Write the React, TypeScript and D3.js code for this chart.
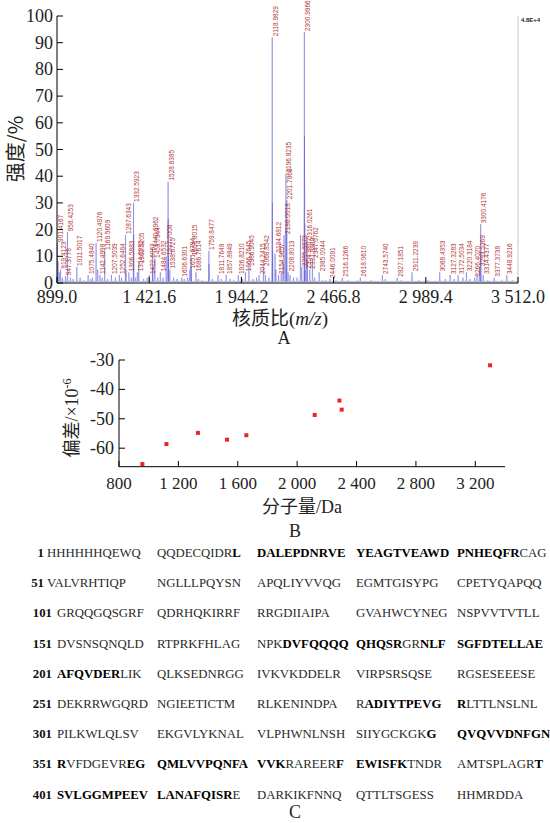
import React from 'react';
import * as d3 from 'd3';

// A: labelled peaks of the spectrum (m/z, relative intensity %)
const peakMz = [
  901.4167, 919.4123, 947.3778, 958.4253, 1011.5017, 1075.484, 1120.4976, 1142.4998, 1169.5609, 1207.5039,
  1252.6484, 1287.6343, 1306.5883, 1332.5923, 1354.5992, 1362.5205, 1422.6063, 1440.6962, 1453.7344, 1484.6532,
  1517.7008, 1528.6385, 1538.6725, 1606.6301, 1651.6794, 1658.8015, 1686.7614, 1759.8477, 1811.7649, 1857.8849,
  1926.821, 1966.7645, 1986.9045, 2044.2415, 2068.8542, 2118.9829, 2134.6812, 2154.9657, 2186.0018, 2196.8235,
  2201.7869, 2208.8013, 2285.8879, 2300.9966, 2304.9807, 2316.0261, 2331.9989, 2347.0762, 2385.0044, 2446.0091,
  2516.1266, 2618.061, 2743.574, 2827.1851, 2911.2239, 3068.4353, 3127.3283, 3172.5034, 3220.3184, 3266.402,
  3293.5369, 3300.4176, 3314.4377, 3377.3738, 3448.9216,
];
const peakInt = [
  15, 5, 2.5, 19, 6, 3, 15, 3, 12, 3,
  3, 18, 4, 30, 4, 7, 3, 13, 9, 4,
  10, 38, 5, 2, 5, 10, 4, 12, 3, 3,
  3, 4, 6, 3, 6, 92, 11, 3, 18, 41,
  31, 4, 6, 94, 5, 16, 5, 9, 4, 1.5,
  2, 2, 3, 2, 4, 4, 3, 3, 4, 2,
  6, 22, 3, 2, 3,
];
// A: unlabelled minor peaks / isotopes
const minorMz = [
  905, 912, 930, 975, 990, 1030, 1050, 1090, 1100, 1130, 1155, 1185, 1230, 1265, 1290, 1320, 1333.6, 1345,
  1390, 1410, 1441.7, 1470, 1500, 1529.6, 1530.6, 1560, 1580, 1620, 1640, 1659.8, 1700, 1720, 1760.8, 1780,
  1830, 1880, 1900, 1950, 2010, 2030, 2080, 2100, 2120, 2121, 2140, 2170, 2180, 2197.8, 2220, 2240, 2260,
  2279, 2302, 2303, 2317, 2360, 2400, 2420, 2480, 2550, 2600, 2680, 2760, 2850, 2950, 3000, 3100, 3150, 3200,
  3240, 3280, 3301.4, 3340, 3420, 3480,
];
const minorInt = [
  8, 4, 2, 2, 1.5, 2, 1, 1.5, 2, 5, 2, 1.5, 2, 2, 5, 2, 18, 2,
  1.5, 2, 6, 2, 2, 24, 10, 2, 1.5, 1.5, 2, 6, 1.5, 1, 7, 1.5,
  1.5, 1.5, 1, 1.5, 1.5, 2, 3, 2, 30, 12, 5, 4, 8, 20, 3, 2, 2,
  18, 55, 22, 8, 2, 1, 1, 1, 1, 1, 1, 1.5, 1, 1, 1, 1.5, 1.5, 2,
  1.5, 3, 12, 1, 1, 1,
];
const mzTicks = [899.0, 1421.6, 1944.2, 2466.8, 2989.4, 3512.0];
const intTicks = [0, 10, 20, 30, 40, 50, 60, 70, 80, 90, 100];

// B: mass deviation of matched peptides
const massDa = [957.42, 1119.49, 1331.58, 1527.63, 1657.79, 2117.98, 2284.88, 2299.99, 3299.41];
const deviation = [-65.4, -58.6, -54.8, -57.1, -55.6, -48.7, -43.8, -46.9, -31.8];
const massTicks = [800, 1200, 1600, 2000, 2400, 2800, 3200];
const devTicks = [-30, -40, -50, -60];

// C: sequence, matched peptides in [brackets]
const seqStarts = [1, 51, 101, 151, 201, 251, 301, 351, 401];
const seqBlocks = [
  ['HHHHHHQEWQ', 'QQDECQIDR[L]', '[DALEPDNRVE]', '[YEAGTVEAWD]', '[PNHEQFR]CAG'],
  ['VALVRHTIQP', 'NGLLLPQYSN', 'APQLIYVVQG', 'EGMTGISYPG', 'CPETYQAPQQ'],
  ['GRQQGQSGRF', 'QDRHQKIRRF', 'RRGDIIAIPA', 'GVAHWCYNEG', 'NSPVVTVTLL'],
  ['DVSNSQNQLD', 'RTPRKFHLAG', 'NPK[DVFQQQQ]', '[QHQSR]GR[NLF]', '[SGFDTELLAE]'],
  ['[AFQVDER]LIK', 'QLKSEDNRGG', 'IVKVKDDELR', 'VIRPSRSQSE', 'RGSESEEESE'],
  ['DEKRRWGQRD', 'NGIEETICTM', 'RLKENINDPA', 'R[ADIYTPEVG]', '[R]LTTLNSLNL'],
  ['PILKWLQLSV', 'EKGVLYKNAL', 'VLPHWNLNSH', 'SIIYGCKGK[G]', '[QVQVVDNFGN]'],
  ['[R]VFDGEVR[EG]', '[QMLVVPQNFA]', '[VVK]RAREER[F]', '[EWISFK]TNDR', 'AMTSPLAGR[T]'],
  ['[SVLGGMPEEV]', '[LANAFQISR]E', 'DARKIKFNNQ', 'QTTLTSGESS', 'HHMRDDA'],
];

const SERIF = '"Liberation Serif", "Times New Roman", "Noto Sans CJK SC", serif';
const CJK = '"Noto Sans CJK SC", "Liberation Serif", sans-serif';

// thousands separated by a space, like "1 421.6"
const spaced = (v: number, dec: number) => {
  const [i, f] = v.toFixed(dec).split('.');
  const int = i.replace(/\B(?=(\d{3})+(?!\d))/g, ' ');
  return f ? `${int}.${f}` : int;
};

const Spectrum = () => {
  const x = d3.scaleLinear().domain([899, 3512]).range([57, 518]);
  const y = d3.scaleLinear().domain([0, 100]).range([283, 16]);

  const all = peakMz.map((m, i) => ({ m, v: peakInt[i] }))
    .concat(minorMz.map((m, i) => ({ m, v: minorInt[i] })))
    .sort((a, b) => a.m - b.m);
  const pts: [number, number][] = [[899, 0.6]];
  all.forEach(p => {
    pts.push([p.m - 1.5, 0.6], [p.m, p.v], [p.m + 1.5, 0.6]);
  });
  pts.push([3512, 0.6]);
  const line = d3.line<[number, number]>().x(d => x(d[0])).y(d => y(d[1]));

  return (
    <g>
      <path d={line(pts) || ''} fill="none" stroke="#6464d8" strokeWidth={0.6} strokeOpacity={0.8} />
      {peakMz.map((m, i) => (
        <text key={m} transform={`translate(${x(m) + 5.5},${y(peakInt[i]) - 1}) rotate(-90)`}
          fontSize={6.5} fontFamily='"Liberation Sans", Arial, sans-serif' fill="#b0353a">
          {m.toFixed(4)}
        </text>
      ))}
      <line x1={518} x2={518} y1={16} y2={283} stroke="#c8c8c8" strokeWidth={1} />
      <text x={521} y={22} fontSize={6} fontWeight="bold" fontFamily='"Liberation Sans", Arial, sans-serif' fill="#222">4.8E+4</text>
      <line x1={57} x2={57} y1={16} y2={283} stroke="#000" />
      <line x1={57} x2={518} y1={283} y2={283} stroke="#000" />
      {intTicks.map(t => (
        <g key={t}>
          <line x1={57} x2={63} y1={y(t)} y2={y(t)} stroke="#000" />
          <text x={53} y={y(t) + 6} textAnchor="end" fontSize={18} fontFamily={SERIF} fill="#222">{t}</text>
        </g>
      ))}
      {mzTicks.map(t => (
        <g key={t}>
          <line x1={x(t)} x2={x(t)} y1={283} y2={277} stroke="#000" />
          <text x={x(t)} y={303} textAnchor="middle" fontSize={18} fontFamily={SERIF} fill="#222">{spaced(t, 1)}</text>
        </g>
      ))}
      <text transform="translate(23,149) rotate(-90)" textAnchor="middle" fontSize={20} fontFamily={CJK} fill="#222">强度/%</text>
      <text x={280} y={325} textAnchor="middle" fontSize={19} fontFamily={SERIF} fill="#222">
        <tspan fontFamily={CJK}>核质比</tspan>(<tspan fontStyle="italic">m/z</tspan>)
      </text>
      <text x={284} y={344} textAnchor="middle" fontSize={18} fontFamily={SERIF} fill="#222">A</text>
    </g>
  );
};

const Deviation = () => {
  const x = d3.scaleLinear().domain([800, 3400]).range([119, 505]);
  const y = d3.scaleLinear().domain([-66.3, -30]).range([466.7, 360]);
  return (
    <g>
      <line x1={119} x2={119} y1={360} y2={466.7} stroke="#000" />
      <line x1={119} x2={505} y1={466.7} y2={466.7} stroke="#000" />
      {devTicks.map(t => (
        <g key={t}>
          <line x1={119} x2={125} y1={y(t)} y2={y(t)} stroke="#000" />
          <text x={114} y={y(t) + 6} textAnchor="end" fontSize={18} fontFamily={SERIF} fill="#222">{t}</text>
        </g>
      ))}
      {massTicks.map(t => (
        <g key={t}>
          <line x1={x(t)} x2={x(t)} y1={466.7} y2={461} stroke="#000" />
          <text x={x(t)} y={489} textAnchor="middle" fontSize={17} fontFamily={SERIF} fill="#222">{spaced(t, 0)}</text>
        </g>
      ))}
      {massDa.map((m, i) => (
        <rect key={m} x={x(m) - 2} y={y(deviation[i]) - 2} width={4} height={4} fill="#ee2428" />
      ))}
      <text transform="translate(78,418) rotate(-90)" textAnchor="middle" fontSize={18} fontFamily={SERIF} fill="#222">
        <tspan fontFamily={CJK}>偏差</tspan>/×10<tspan dy={-7} fontSize={12}>-6</tspan>
      </text>
      <text x={302} y={513} textAnchor="middle" fontSize={18} fontFamily={SERIF} fill="#222">
        <tspan fontFamily={CJK}>分子量</tspan>/Da
      </text>
      <text x={295} y={537} textAnchor="middle" fontSize={18} fontFamily={SERIF} fill="#222">B</text>
    </g>
  );
};

const Sequence = () => {
  const stops = [57, 157, 257, 356, 457];
  return (
    <g fontFamily={SERIF} fontSize={12.8} fill="#2a2a2a">
      {seqStarts.map((s, r) => {
        const yb = 557 + r * 30.2;
        return (
          <g key={s}>
            <text x={s < 100 ? 44 : 52} y={yb} textAnchor="end" fontWeight="bold" fill="#111">{s}</text>
            {seqBlocks[r].map((b, j) => (
              <text key={j} x={j === 0 && s < 100 ? 47 : stops[j]} y={yb}>
                {b.split(/(\[[^\]]*\])/).filter(p => p).map((p, k) => p.startsWith('[')
                  ? <tspan key={k} fontWeight="bold" fill="#000">{p.slice(1, -1)}</tspan>
                  : <tspan key={k}>{p}</tspan>)}
              </text>
            ))}
          </g>
        );
      })}
      <text x={295} y={818} textAnchor="middle" fontSize={18}>C</text>
    </g>
  );
};

export default function App() {
  return (
    <svg width={550} height={823} style={{ position: 'fixed', left: 0, top: 0, background: '#fff' }}>
      <rect width={550} height={823} fill="#fff" />
      <Spectrum />
      <Deviation />
      <Sequence />
    </svg>
  );
}
